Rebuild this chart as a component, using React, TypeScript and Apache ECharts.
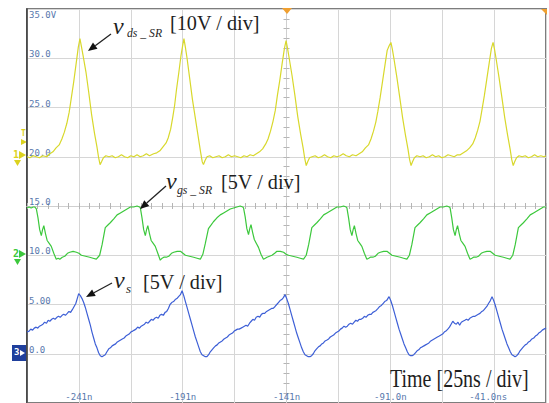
import React, { useEffect, useRef } from 'react';
import * as echarts from 'echarts';

// time [ns], value [V]
const yellowTrace: [number, number][] = [
  [-266, 20.0], [-264.6, 19.9], [-263.1, 20.1], [-261.5, 20.0], [-260.0, 19.9], [-258.4, 20.1], [-256.5, 20.0],
  [-255.0, 20.3], [-253.5, 20.5], [-252.0, 20.9], [-250.5, 21.2], [-249.2, 21.8], [-248.0, 22.5], [-246.8, 23.4],
  [-245.7, 24.5], [-244.7, 25.9], [-243.5, 27.6], [-242.3, 29.5], [-241.3, 31.1], [-240.5, 32.0], [-239.8, 31.2],
  [-239.0, 30.3], [-237.6, 28.6], [-236.3, 26.6], [-234.9, 24.3], [-233.5, 22.4], [-232.3, 21.0], [-231.5, 19.9],
  [-230.8, 19.2], [-230.1, 19.5], [-229.2, 19.9], [-228.0, 20.1], [-226.5, 20.0],
  [-225.0, 20.1], [-223.5, 19.9], [-222.0, 20.0], [-220.5, 20.2], [-219.0, 20.0], [-217.5, 19.9], [-216.0, 20.1],
  [-214.5, 20.0], [-213.0, 20.2], [-211.5, 20.0], [-210.0, 20.1], [-208.5, 20.3], [-207.0, 20.1],
  [-205.0, 20.3], [-203.5, 20.4], [-202.0, 20.6], [-200.5, 21.0], [-199.0, 21.4], [-198.0, 21.9], [-196.8, 22.8],
  [-195.8, 24.0], [-194.9, 25.2], [-194.0, 26.8], [-192.9, 28.5], [-191.8, 30.3], [-191.0, 31.3], [-190.4, 32.0],
  [-189.7, 31.1], [-188.9, 30.0], [-187.6, 27.9], [-186.3, 25.8], [-184.9, 23.9], [-183.5, 22.0], [-182.4, 20.5],
  [-181.6, 19.5], [-181.0, 19.2], [-180.3, 19.6], [-179.3, 20.0], [-178.0, 20.1], [-176.5, 19.9],
  [-175.0, 20.0], [-173.5, 20.1], [-172.0, 19.9], [-170.5, 20.0], [-169.0, 20.2], [-167.5, 20.0], [-166.0, 20.1],
  [-164.5, 20.0], [-163.0, 19.9], [-161.5, 20.1], [-160.0, 20.0], [-158.5, 20.2],
  [-157.0, 20.1], [-155.5, 20.3], [-154.0, 20.5], [-152.5, 20.8], [-151.0, 21.3], [-149.9, 21.8], [-148.7, 22.6],
  [-147.5, 23.6], [-146.4, 24.7], [-145.4, 26.2], [-144.2, 27.8], [-143.0, 29.6], [-142.0, 31.0], [-141.2, 31.8],
  [-140.5, 31.0], [-139.7, 30.0], [-138.3, 28.2], [-137.0, 26.3], [-135.6, 24.1], [-134.2, 22.3], [-133.0, 20.9],
  [-132.2, 19.8], [-131.5, 19.1], [-130.8, 19.5], [-129.9, 19.9], [-128.7, 20.0], [-127.2, 20.1],
  [-125.7, 19.9], [-124.2, 20.0], [-122.7, 20.2], [-121.2, 20.0], [-119.7, 19.9], [-118.2, 20.1], [-116.7, 20.0],
  [-115.2, 20.1], [-113.7, 20.3], [-112.2, 20.1], [-110.7, 20.0], [-109.2, 20.2],
  [-107.5, 20.1], [-106.0, 20.3], [-104.5, 20.5], [-103.0, 20.9], [-101.5, 21.2], [-100.3, 21.8], [-99.1, 22.6],
  [-98.0, 23.5], [-97.0, 24.6], [-95.9, 26.0], [-94.7, 27.7], [-93.5, 29.4], [-92.5, 30.8], [-91.5, 31.3],
  [-90.7, 31.6], [-90.0, 30.9], [-89.2, 29.9], [-87.8, 28.0], [-86.5, 26.1], [-85.1, 24.0], [-83.7, 22.2],
  [-82.5, 20.8], [-81.7, 19.7], [-81.0, 19.1], [-80.3, 19.5], [-79.4, 19.9], [-78.2, 20.1], [-76.7, 20.0],
  [-75.2, 20.1], [-73.7, 19.9], [-72.2, 20.0], [-70.7, 20.2], [-69.2, 20.0], [-67.7, 20.1], [-66.2, 19.9],
  [-64.7, 20.0], [-63.2, 20.2], [-61.7, 20.1], [-60.2, 20.0], [-58.7, 20.2],
  [-57.3, 20.2], [-55.8, 20.4], [-54.3, 20.6], [-52.8, 20.9], [-51.3, 21.3], [-50.1, 21.9], [-48.9, 22.7],
  [-47.8, 23.6], [-46.8, 24.8], [-45.7, 26.2], [-44.5, 27.9], [-43.3, 29.6], [-42.3, 31.0], [-41.5, 31.6],
  [-40.8, 30.9], [-40.0, 29.9], [-38.6, 28.0], [-37.3, 26.1], [-35.9, 24.0], [-34.5, 22.2], [-33.3, 20.8],
  [-32.5, 19.7], [-31.8, 19.1], [-31.1, 19.5], [-30.2, 19.9], [-29.0, 20.1], [-27.5, 20.0],
  [-26.0, 20.1], [-24.5, 19.9], [-23.0, 20.0], [-21.5, 20.2], [-20.0, 20.0], [-18.5, 20.1], [-17.0, 20.0], [-16.0, 20.1],
];

const greenTrace: [number, number][] = [
  [-266, 14.8], [-265, 14.9], [-264, 14.8], [-263, 14.9], [-262.3, 14.9], [-261.5, 14.7],
  [-260.7, 13.8], [-259.9, 12.6], [-259.1, 12.0], [-258.5, 12.6], [-257.9, 13.0], [-257.1, 12.2], [-256.3, 11.5],
  [-255.3, 11.2], [-254.3, 10.9], [-253.1, 10.2], [-251.9, 9.6], [-251.0, 9.7], [-250.2, 9.6], [-249.0, 9.8],
  [-247.8, 9.9], [-246.5, 10.2], [-245.4, 10.3], [-243.8, 10.4], [-242.2, 10.3], [-241.0, 10.2], [-239.8, 10.0],
  [-237.8, 9.9], [-235.8, 9.8], [-234.2, 9.7], [-232.6, 9.6],
  [-231.0, 10.0], [-229.8, 11.1], [-228.3, 12.8], [-226.9, 13.1], [-225.9, 13.3], [-224.2, 13.7], [-222.6, 14.1],
  [-221.0, 14.3], [-219.4, 14.5], [-217.8, 14.7], [-216.2, 14.9], [-214.6, 14.9], [-213.0, 15.0], [-211.8, 14.9],
  [-211.4, 14.8],
  [-210.6, 13.8], [-209.8, 12.6], [-209.0, 12.0], [-208.4, 12.6], [-207.8, 13.0], [-207.0, 12.2], [-206.2, 11.5],
  [-205.2, 11.2], [-204.2, 10.9], [-203.0, 10.2], [-201.8, 9.5], [-200.9, 9.7], [-200.1, 9.8], [-198.9, 9.8],
  [-197.7, 9.9], [-196.4, 10.2], [-195.3, 10.3], [-193.7, 10.4], [-192.1, 10.4], [-190.9, 10.2], [-189.7, 10.0],
  [-187.7, 9.9], [-185.7, 9.8], [-184.1, 9.7], [-182.5, 9.6],
  [-181.3, 10.1], [-180.1, 11.2], [-178.6, 12.7], [-177.2, 13.1], [-176.2, 13.4], [-174.5, 13.8], [-172.9, 14.1],
  [-171.3, 14.3], [-169.7, 14.5], [-168.1, 14.7], [-166.5, 14.8], [-164.9, 14.9], [-163.3, 15.0], [-162.1, 14.9],
  [-161.7, 14.8],
  [-160.9, 13.9], [-160.1, 12.7], [-159.3, 12.1], [-158.7, 12.7], [-158.1, 13.1], [-157.3, 12.3], [-156.5, 11.6],
  [-155.5, 11.2], [-154.5, 10.8], [-153.3, 10.1], [-152.1, 9.6], [-151.2, 9.7], [-150.4, 9.8], [-149.2, 9.9],
  [-148.0, 10.0], [-146.7, 10.2], [-145.6, 10.4], [-144.0, 10.4], [-142.4, 10.3], [-141.2, 10.1], [-140.0, 10.0],
  [-138.0, 9.9], [-136.0, 9.8], [-134.4, 9.7], [-132.8, 9.6],
  [-131.5, 10.0], [-130.3, 11.1], [-128.8, 12.8], [-127.4, 13.1], [-126.4, 13.3], [-124.7, 13.7], [-123.1, 14.1],
  [-121.5, 14.3], [-119.9, 14.5], [-118.3, 14.7], [-116.7, 14.9], [-115.1, 14.9], [-113.5, 15.0], [-112.3, 14.9],
  [-111.9, 14.8],
  [-111.1, 13.8], [-110.3, 12.6], [-109.5, 12.0], [-108.9, 12.6], [-108.3, 13.0], [-107.5, 12.2], [-106.7, 11.5],
  [-105.7, 11.2], [-104.7, 10.9], [-103.5, 10.2], [-102.3, 9.6], [-101.4, 9.7], [-100.6, 9.8], [-99.4, 9.8],
  [-98.2, 9.9], [-96.9, 10.2], [-95.8, 10.3], [-94.2, 10.4], [-92.6, 10.4], [-91.4, 10.2], [-90.2, 10.0],
  [-88.2, 9.9], [-86.2, 9.8], [-84.6, 9.7], [-83.0, 9.6],
  [-81.8, 10.0], [-80.6, 11.1], [-79.1, 12.8], [-77.7, 13.1], [-76.7, 13.3], [-75.0, 13.7], [-73.4, 14.1],
  [-71.8, 14.3], [-70.2, 14.5], [-68.6, 14.7], [-67.0, 14.9], [-65.4, 14.9], [-63.8, 15.0], [-62.6, 14.9],
  [-62.2, 14.8],
  [-61.4, 13.8], [-60.6, 12.6], [-59.8, 12.0], [-59.2, 12.6], [-58.6, 13.0], [-57.8, 12.2], [-57.0, 11.5],
  [-56.0, 11.2], [-55.0, 10.9], [-53.8, 10.2], [-52.6, 9.6], [-51.7, 9.7], [-50.9, 9.8], [-49.7, 9.8],
  [-48.5, 9.9], [-47.2, 10.2], [-46.1, 10.3], [-44.5, 10.4], [-42.9, 10.4], [-41.7, 10.2], [-40.5, 10.0],
  [-38.5, 9.9], [-36.5, 9.8], [-34.9, 9.7], [-33.3, 9.6],
  [-32.0, 10.0], [-30.8, 11.1], [-29.3, 12.8], [-27.9, 13.1], [-26.9, 13.3], [-25.2, 13.7], [-23.6, 14.1],
  [-22.0, 14.3], [-20.4, 14.5], [-18.8, 14.7], [-17.2, 14.9], [-16.0, 14.9],
];

const blueTrace: [number, number][] = [
  [-266.0, 2.2], [-265.0, 2.3], [-264.2, 2.5], [-263.3, 2.4], [-262.5, 2.6], [-261.6, 2.7], [-260.8, 2.6],
  [-260.0, 2.8], [-259.1, 2.9], [-258.3, 3.0], [-257.5, 3.2], [-256.6, 3.1], [-255.8, 3.4], [-255.0, 3.3],
  [-254.1, 3.5], [-253.3, 3.6], [-252.5, 3.5], [-251.6, 3.7], [-250.8, 3.8], [-250.0, 3.7], [-249.1, 3.9],
  [-248.3, 4.0], [-247.5, 3.9], [-246.6, 4.1], [-245.8, 4.3], [-245.0, 4.2], [-244.1, 4.5], [-243.3, 4.8],
  [-242.5, 5.1], [-241.8, 5.6], [-241.1, 6.1],
  [-240.3, 5.9], [-239.5, 5.6], [-238.7, 5.2], [-237.9, 4.7], [-237.1, 4.1], [-236.3, 3.5], [-235.5, 2.9],
  [-234.7, 2.2], [-233.9, 1.6], [-233.1, 1.0], [-232.3, 0.6], [-231.5, 0.1], [-230.7, -0.2], [-229.9, -0.3],
  [-229.1, -0.2], [-228.3, -0.1], [-227.5, 0.2], [-226.6, 0.5], [-225.8, 0.6], [-225.0, 0.8], [-224.2, 0.9],
  [-223.3, 1.0], [-222.5, 1.2], [-221.7, 1.3], [-220.9, 1.4], [-220.1, 1.5], [-219.2, 1.6], [-218.4, 1.8],
  [-217.6, 1.9], [-216.8, 2.0], [-216.0, 2.2], [-215.1, 2.3], [-214.3, 2.4], [-213.5, 2.5], [-212.7, 2.7],
  [-211.8, 2.6], [-211.0, 2.8], [-210.2, 2.9], [-209.4, 3.0], [-208.6, 3.2], [-207.7, 3.1], [-206.9, 3.3],
  [-206.1, 3.5], [-205.3, 3.4], [-204.5, 3.6], [-203.6, 3.7], [-202.8, 3.6], [-202.0, 3.9], [-201.2, 4.0],
  [-200.3, 3.9], [-199.5, 4.2], [-198.7, 4.3], [-197.9, 4.6], [-197.1, 5.0], [-196.3, 5.2], [-195.4, 5.3],
  [-194.6, 5.5], [-193.8, 5.6], [-193.0, 5.8], [-192.1, 6.0], [-191.3, 6.4],
  [-190.5, 5.9], [-189.7, 5.3], [-188.9, 4.7], [-188.1, 4.1], [-187.3, 3.5], [-186.5, 2.9], [-185.7, 2.3],
  [-184.9, 1.7], [-184.1, 1.2], [-183.3, 0.7], [-182.5, 0.2], [-181.7, -0.1], [-180.9, -0.2], [-180.1, -0.3],
  [-179.3, -0.3], [-178.5, -0.1], [-177.7, 0.2], [-176.9, 0.4], [-176.1, 0.6], [-175.2, 0.8], [-174.4, 0.9],
  [-173.6, 1.1], [-172.8, 1.2], [-172.0, 1.3], [-171.1, 1.5], [-170.3, 1.6], [-169.5, 1.7], [-168.7, 1.9],
  [-167.9, 2.0], [-167.0, 2.1], [-166.2, 2.3], [-165.4, 2.4], [-164.6, 2.5], [-163.8, 2.5], [-162.9, 2.6],
  [-162.1, 2.7], [-161.3, 2.8], [-160.5, 2.9], [-159.7, 2.8], [-158.8, 3.1], [-158.0, 3.3], [-157.2, 3.5],
  [-156.4, 3.4], [-155.6, 3.7], [-154.7, 3.8], [-153.9, 3.7], [-153.1, 4.0], [-152.3, 4.1], [-151.5, 4.1],
  [-150.6, 4.3], [-149.8, 4.4], [-149.0, 4.5], [-148.2, 4.6], [-147.4, 4.6], [-146.5, 4.8], [-145.7, 5.0],
  [-144.9, 5.2], [-144.1, 5.4], [-143.3, 5.5], [-142.5, 5.7], [-141.7, 6.0],
  [-140.9, 5.6], [-140.1, 5.1], [-139.3, 4.5], [-138.5, 3.9], [-137.7, 3.3], [-136.9, 2.7], [-136.1, 2.1],
  [-135.3, 1.6], [-134.5, 1.1], [-133.7, 0.6], [-132.9, 0.2], [-132.1, -0.1], [-131.3, -0.2], [-130.5, -0.3],
  [-129.7, -0.3], [-128.9, -0.2], [-128.1, 0.0], [-127.3, 0.3], [-126.5, 0.5], [-125.6, 0.7], [-124.8, 0.8],
  [-124.0, 1.0], [-123.2, 1.1], [-122.4, 1.3], [-121.5, 1.4], [-120.7, 1.5], [-119.9, 1.7], [-119.1, 1.8],
  [-118.3, 1.9], [-117.4, 2.1], [-116.6, 2.2], [-115.8, 2.3], [-115.0, 2.5], [-114.2, 2.6], [-113.3, 2.8],
  [-112.5, 2.7], [-111.7, 2.8], [-110.9, 3.0], [-110.1, 3.1], [-109.2, 3.0], [-108.4, 3.2], [-107.6, 3.4],
  [-106.8, 3.3], [-106.0, 3.5], [-105.1, 3.5], [-104.3, 3.6], [-103.5, 3.8], [-102.7, 3.7], [-101.9, 3.9],
  [-101.0, 4.0], [-100.2, 4.0], [-99.4, 4.2], [-98.6, 4.3], [-97.8, 4.4], [-96.9, 4.6], [-96.1, 4.8],
  [-95.3, 4.9], [-94.5, 5.1], [-93.7, 5.3], [-92.8, 5.4], [-92.2, 5.6], [-91.6, 5.8],
  [-90.8, 5.4], [-90.0, 4.9], [-89.2, 4.3], [-88.4, 3.7], [-87.6, 3.1], [-86.8, 2.5], [-86.0, 2.0],
  [-85.2, 1.5], [-84.4, 1.0], [-83.6, 0.6], [-82.8, 0.2], [-82.0, -0.1], [-81.2, -0.2], [-80.5, -0.2],
  [-79.7, -0.1], [-78.9, 0.1], [-78.1, 0.3], [-77.3, 0.4], [-76.5, 0.6], [-75.6, 0.7], [-74.8, 0.8],
  [-74.0, 0.9], [-73.2, 1.0], [-72.4, 1.1], [-71.5, 1.3], [-70.7, 1.4], [-69.9, 1.5], [-69.1, 1.6],
  [-68.3, 1.7], [-67.4, 1.8], [-66.6, 1.9], [-65.8, 2.0], [-65.0, 2.2], [-64.2, 2.3], [-63.3, 2.5],
  [-62.5, 2.7], [-61.7, 3.0], [-60.9, 3.3], [-60.1, 3.1], [-59.2, 3.0], [-58.4, 3.2], [-57.6, 2.9],
  [-56.8, 3.2], [-56.0, 3.3], [-55.1, 3.4], [-54.3, 3.5], [-53.5, 3.4], [-52.7, 3.6], [-51.9, 3.7],
  [-51.0, 3.8], [-50.2, 3.8], [-49.4, 3.9], [-48.6, 4.0], [-47.8, 4.1], [-46.9, 4.3], [-46.1, 4.4],
  [-45.3, 4.6], [-44.5, 4.8], [-43.7, 5.1], [-42.8, 5.4], [-42.0, 5.8],
  [-41.2, 5.4], [-40.4, 4.9], [-39.6, 4.3], [-38.8, 3.7], [-38.0, 3.1], [-37.2, 2.5], [-36.4, 2.0],
  [-35.6, 1.5], [-34.8, 1.0], [-34.0, 0.6], [-33.2, 0.2], [-32.4, -0.1], [-31.6, -0.2], [-30.9, -0.3],
  [-30.1, -0.2], [-29.3, 0.0], [-28.5, 0.3], [-27.7, 0.5], [-26.9, 0.7], [-26.0, 0.9], [-25.2, 1.0],
  [-24.4, 1.2], [-23.6, 1.3], [-22.8, 1.5], [-21.9, 1.6], [-21.1, 1.8], [-20.3, 1.9], [-19.5, 2.1],
  [-18.7, 2.2], [-17.8, 2.4], [-17.0, 2.5], [-16.0, 2.6],
];

const xMin = -266;
const xMax = -16;
const xStep = 25;
const xTickValues = [-241, -191, -141, -91, -41];
const xTickLabels = ['-241n', '-191n', '-141n', '-91.0n', '-41.0ns'];

const yMin = -5;
const yMax = 35;
const yStep = 5;
const yTickValues = [0, 5, 10, 15, 20, 25, 30, 35];
const yTickLabels = ['0.0', '5.00', '10.0', '15.0', '20.0', '25.0', '30.0', '35.0V'];

const W = 549;
const H = 403;
const GRID = { left: 27, top: 9, width: 519, height: 394 };

const MONO = '"DejaVu Sans Mono", monospace';
const SERIF = '"Liberation Serif", "Times New Roman", serif';
const LABEL_COLOR = '#5878ad';
const GRID_COLOR = '#d6d6d6';

function arrow(tail: [number, number], tip: [number, number]) {
  const dx = tip[0] - tail[0];
  const dy = tip[1] - tail[1];
  const len = Math.sqrt(dx * dx + dy * dy);
  const ux = dx / len;
  const uy = dy / len;
  const hl = 9;
  const hw = 3.8;
  const bx = tip[0] - hl * ux;
  const by = tip[1] - hl * uy;
  return [
    { type: 'line', shape: { x1: tail[0], y1: tail[1], x2: bx, y2: by }, style: { stroke: '#222', lineWidth: 1.3 }, z: 10 },
    {
      type: 'polygon',
      shape: { points: [[tip[0], tip[1]], [bx - uy * hw, by + ux * hw], [bx + uy * hw, by - ux * hw]] },
      style: { fill: '#111' },
      z: 10,
    },
  ];
}

function textEl(x: number, y: number, text: string, font: string, scaleX = 1, fill = '#1e1e1e') {
  return { type: 'text', x, y, scaleX, style: { text, font, fill, align: 'left', verticalAlign: 'middle' }, z: 10 };
}

export default function App() {
  const ref = useRef<HTMLDivElement>(null);
  useEffect(() => {
    if (!ref.current) return;
    const chart = echarts.init(ref.current, undefined, { renderer: 'svg', width: W, height: H });
    const yFmt = (v: number) => {
      const i = yTickValues.findIndex((t) => Math.abs(t - v) < 1e-6);
      if (i < 0) return '';
      return v === yMax ? `{top|${yTickLabels[i]}}` : `{n|${yTickLabels[i]}}`;
    };
    const xFmt = (v: number) => {
      const i = xTickValues.findIndex((t) => Math.abs(t - v) < 1e-6);
      if (i < 0) return '';
      return i === xTickValues.length - 1 ? `{last|${xTickLabels[i]}}` : `{n|${xTickLabels[i]}}`;
    };
    const labelBase = { fontFamily: MONO, fontSize: 9, color: LABEL_COLOR };
    const centerAxis = (inside: boolean) => ({
      axisLine: { show: true, lineStyle: { color: '#cfcfcf', width: 1 } },
      axisLabel: { show: false },
      splitLine: { show: false },
      axisTick: { show: true, inside, length: 3, lineStyle: { color: '#b5b5b5', width: 1 } },
      minorTick: { show: true, splitNumber: 5, length: 3, lineStyle: { color: '#b5b5b5', width: 1 } },
    });
    chart.setOption({
      animation: false,
      backgroundColor: '#ffffff',
      grid: {
        ...GRID,
        show: true,
        borderColor: '#7d7d7d',
        borderWidth: 2,
        backgroundColor: 'transparent',
        outerBoundsMode: 'none',
      },
      xAxis: [
        {
          type: 'value',
          min: xMin,
          max: xMax,
          interval: xStep,
          axisLine: { show: false },
          axisTick: { show: false },
          splitLine: { show: true, lineStyle: { color: GRID_COLOR, width: 1 } },
          axisLabel: {
            show: true,
            inside: true,
            margin: 2,
            formatter: xFmt,
            showMinLabel: true,
            showMaxLabel: true,
            rich: { n: { ...labelBase }, last: { ...labelBase, padding: [0, 12, 0, 0] } },
          },
        },
        { type: 'value', min: xMin, max: xMax, interval: xStep, position: 'bottom', offset: -GRID.height / 2, ...centerAxis(false) },
        { type: 'value', min: xMin, max: xMax, interval: xStep, position: 'bottom', offset: -GRID.height / 2, ...centerAxis(true) },
      ],
      yAxis: [
        {
          type: 'value',
          min: yMin,
          max: yMax,
          interval: yStep,
          axisLine: { show: true, lineStyle: { color: '#3a3a3a', width: 1.5 } },
          axisTick: { show: false },
          splitLine: { show: true, lineStyle: { color: GRID_COLOR, width: 1 } },
          axisLabel: {
            show: true,
            inside: true,
            margin: 2,
            verticalAlign: 'middle',
            formatter: yFmt,
            showMinLabel: true,
            showMaxLabel: true,
            rich: {
              n: { ...labelBase, padding: [0, 0, 8, 0] },
              top: { ...labelBase, padding: [12, 0, 0, 0] },
            },
          },
        },
        { type: 'value', min: yMin, max: yMax, interval: yStep, position: 'left', offset: -GRID.width / 2, ...centerAxis(false) },
        { type: 'value', min: yMin, max: yMax, interval: yStep, position: 'left', offset: -GRID.width / 2, ...centerAxis(true) },
      ],
      series: [
        {
          name: 'v_ds_SR', type: 'line', xAxisIndex: 0, yAxisIndex: 0, data: yellowTrace, showSymbol: false,
          lineStyle: { color: '#d8d82c', width: 1.2 }, itemStyle: { color: '#d8d82c' }, z: 3,
        },
        {
          name: 'v_gs_SR', type: 'line', xAxisIndex: 0, yAxisIndex: 0, data: greenTrace, showSymbol: false,
          lineStyle: { color: '#3cc83c', width: 1.2 }, itemStyle: { color: '#3cc83c' }, z: 3,
        },
        {
          name: 'v_s', type: 'line', xAxisIndex: 0, yAxisIndex: 0, data: blueTrace, showSymbol: false,
          lineStyle: { color: '#3d5fd6', width: 1.2 }, itemStyle: { color: '#3d5fd6' }, z: 3,
        },
      ],
      graphic: [
        // annotation: v_ds_SR
        textEl(113, 26, 'v', `italic 24px ${SERIF}`),
        textEl(127, 33, 'ds _ SR', `italic 13px ${SERIF}`, 0.9),
        textEl(170, 22.5, '[10V / div]', `22px ${SERIF}`, 0.92),
        ...arrow([111, 34], [88, 51]),
        // annotation: v_gs_SR
        textEl(166, 181, 'v', `italic 24px ${SERIF}`),
        textEl(177, 190, 'gs _ SR', `italic 13px ${SERIF}`, 0.9),
        textEl(221, 181.5, '[5V / div]', `22px ${SERIF}`, 0.92),
        ...arrow([166, 186], [140, 209]),
        // annotation: v_s
        textEl(114, 280, 'v', `italic 24px ${SERIF}`),
        textEl(126, 288, 's', `italic 13px ${SERIF}`),
        textEl(143, 281.5, '[5V / div]', `22px ${SERIF}`, 0.92),
        ...arrow([112, 283], [86, 297]),
        // time base
        textEl(390, 378.5, 'Time [25ns / div]', `25px ${SERIF}`, 0.8),
        // scope markers
        { type: 'polygon', shape: { points: [[282, 8], [292, 8], [287, 14]] }, style: { fill: '#f0a030' }, z: 10 },
        { type: 'polygon', shape: { points: [[541, 9], [547, 9], [547, 15]] }, style: { fill: '#f0a030' }, z: 10 },
        { type: 'text', x: 21, y: 133, style: { text: 'T', font: `bold 8px ${MONO}`, fill: '#dcd21e', verticalAlign: 'middle' } },
        { type: 'polygon', shape: { points: [[21, 139], [27, 142], [21, 145]] }, style: { fill: '#dcd21e' } },
        { type: 'text', x: 13, y: 154, style: { text: '1', font: `bold 10px ${MONO}`, fill: '#dcd21e', verticalAlign: 'middle' } },
        { type: 'polygon', shape: { points: [[19, 151], [26, 155], [19, 159]] }, style: { fill: '#dcd21e' } },
        { type: 'polygon', shape: { points: [[14, 160], [21, 160], [17.5, 166]] }, style: { fill: '#dcd21e' } },
        { type: 'text', x: 13, y: 253, style: { text: '2', font: `bold 10px ${MONO}`, fill: '#3cc83c', verticalAlign: 'middle' } },
        { type: 'polygon', shape: { points: [[19, 250], [26, 254], [19, 258]] }, style: { fill: '#3cc83c' } },
        { type: 'polygon', shape: { points: [[14, 259], [21, 259], [17.5, 265]] }, style: { fill: '#3cc83c' } },
        { type: 'rect', shape: { x: 12, y: 345, width: 14, height: 16 }, style: { fill: '#1f3f9c' } },
        { type: 'text', x: 14, y: 352, style: { text: '3', font: `bold 9px ${MONO}`, fill: '#ffffff', verticalAlign: 'middle' } },
        { type: 'polygon', shape: { points: [[20, 350], [25, 353], [20, 356]] }, style: { fill: '#ffffff' } },
      ],
    });
    return () => chart.dispose();
  }, []);
  return (
    <div
      ref={ref}
      style={{ position: 'fixed', left: 0, top: 0, width: W, height: H, background: '#fff' }}
    />
  );
}
